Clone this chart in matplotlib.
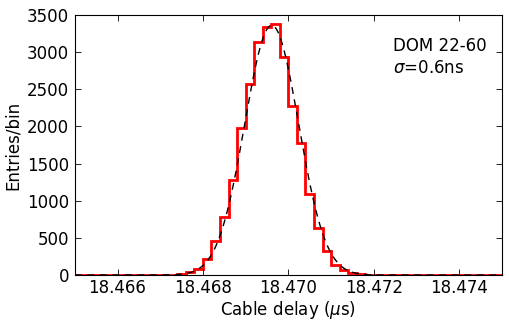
import numpy as np
import matplotlib
matplotlib.use("Agg")
import matplotlib.pyplot as plt

# histogram of cable delay, 0.2 ns bins between 18.465 and 18.475 us
x_lo, x_hi, bin_w = 18.465, 18.475, 0.0002
counts = [0, 0, 0, 0, 0, 0, 0, 0, 0, 0,
          0, 3, 10, 36, 80, 220, 458, 785, 1279, 1975,
          2567, 3132, 3343, 3379, 2939, 2280, 1773, 1086, 628, 325,
          137, 67, 25, 10, 3, 0, 0, 0, 0, 0,
          0, 0, 0, 0, 0, 0, 0, 0, 0, 0]

# gaussian fit parameters
fit_amp = 3360
fit_mu = 18.46961
fit_sigma = 0.00063

label_dom = "DOM 22-60"
label_sigma = r"$\sigma$=0.6ns"

plt.rcParams['font.family'] = 'DejaVu Sans'
plt.rcParams['font.size'] = 12
plt.rcParams['xtick.direction'] = 'in'
plt.rcParams['ytick.direction'] = 'in'
plt.rcParams['xtick.top'] = True
plt.rcParams['ytick.right'] = True
plt.rcParams['xtick.major.size'] = 4
plt.rcParams['ytick.major.size'] = 4
plt.rcParams['xtick.major.width'] = 0.6
plt.rcParams['ytick.major.width'] = 0.6
plt.rcParams['xtick.major.pad'] = 3
plt.rcParams['ytick.major.pad'] = 4

fig = plt.figure(figsize=(5.09, 3.24), dpi=100)
ax = fig.add_axes([0.147, 0.151, 0.839, 0.803])

edges = x_lo + bin_w*np.arange(len(counts) + 1)
ax.stairs(counts, edges, color='red', linewidth=2)

xf = np.linspace(x_lo, x_hi, 600)
yf = fit_amp*np.exp(-0.5*((xf - fit_mu)/fit_sigma)**2)
ax.plot(xf, yf, 'k--', linewidth=1, dashes=(5, 4))

ax.set_xlim(x_lo, x_hi)
ax.set_ylim(0, 3500)
ax.set_xticks(np.arange(18.466, 18.4745, 0.002))
ax.set_yticks(np.arange(0, 3501, 500))
ax.xaxis.set_major_formatter(matplotlib.ticker.FormatStrFormatter('%.3f'))
ax.set_xlabel(r"Cable delay ($\mu$s)", labelpad=1)
ax.set_ylabel("Entries/bin", labelpad=4)

ax.text(0.745, 0.915, label_dom + "\n" + label_sigma, transform=ax.transAxes,
        va='top', ha='left', linespacing=1.3)

fig.savefig("out.png", dpi=100)
